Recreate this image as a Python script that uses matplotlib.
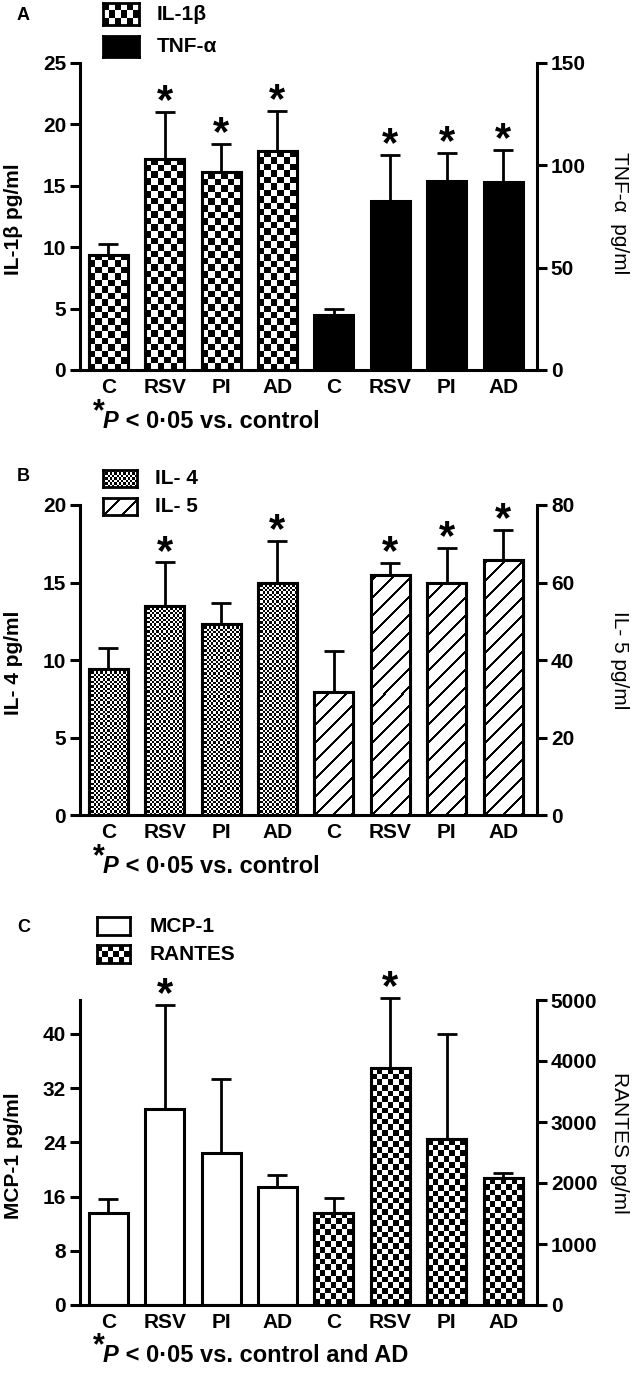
import matplotlib
matplotlib.use('Agg')
import matplotlib.pyplot as plt
import numpy as np

plt.rcParams['font.family'] = ['Liberation Sans', 'DejaVu Sans']
plt.rcParams['font.weight'] = 'bold'

categories = ['C', 'RSV', 'PI', 'AD']

# panel A
il1b_mean = [9.4, 17.2, 16.1, 17.8]
il1b_sem = [0.9, 3.8, 2.3, 3.3]
il1b_star = [False, True, True, True]
tnf_mean = [26.9, 82.6, 92.3, 91.8]
tnf_sem = [2.9, 22.4, 13.7, 15.7]
tnf_star = [False, True, True, True]

# panel B
il4_mean = [9.4, 13.5, 12.3, 15.0]
il4_sem = [1.4, 2.8, 1.4, 2.7]
il4_star = [False, True, False, True]
il5_mean = [31.7, 62.0, 60.0, 65.8]
il5_sem = [10.6, 3.0, 9.0, 7.7]
il5_star = [False, True, True, True]

# panel C
mcp_mean = [13.6, 28.9, 22.4, 17.4]
mcp_sem = [2.1, 15.4, 10.9, 1.8]
mcp_star = [False, True, False, False]
rantes_mean = [1511, 3883, 2717, 2078]
rantes_sem = [244, 1150, 1722, 83]
rantes_star = [False, True, False, False]

W, H = 639, 1375
fig = plt.figure(figsize=(W / 100, H / 100), dpi=100)

def fx(x):
    return x / W

def fy(y):
    return 1 - y / H

def px_rect(left, top, right, bottom):
    return [left / W, 1 - bottom / H, (right - left) / W, (bottom - top) / H]

BAR_W = 0.69
TICK_FS = 15
LW = 2.2
FILL_PX = {'checker': 6.5, 'checker_small': 5.7, 'fine': 2.3, 'hatch': 18}

def pattern(ax, x0, y0, w, h, style):
    # texture image (checkerboard or diagonal stripes) filling a box in data units
    p0 = ax.transData.transform((x0, y0))
    p1 = ax.transData.transform((x0 + w, y0 + h))
    wpx, hpx = abs(p1[0] - p0[0]), abs(p1[1] - p0[1])
    if style == 'hatch':
        nx, ny = max(1, int(round(wpx))), max(1, int(round(hpx)))
        i, j = np.indices((ny, nx))
        grid = np.where(((j - i) % FILL_PX['hatch']) < 2.6, 0, 1)
    else:
        c = FILL_PX[style]
        nx = max(1, int(round(wpx / c)))
        ny = max(1, int(round(hpx / c)))
        grid = np.add.outer(np.arange(ny), np.arange(nx)) % 2
    return ax.imshow(grid, cmap='gray', vmin=0, vmax=1, extent=(x0, x0 + w, y0, y0 + h),
                     aspect='auto', interpolation='nearest', origin='lower', zorder=2)

def draw_bars(ax, xs, mean, sem, star, style):
    face = 'black' if style == 'black' else 'white'
    bars = ax.bar(xs, mean, width=BAR_W, color=face, edgecolor='black',
                  linewidth=LW, zorder=2)
    ax.errorbar(xs, mean, yerr=[np.zeros(len(mean)), sem], fmt='none', ecolor='black',
                elinewidth=2, capsize=7, capthick=2, zorder=1, clip_on=False)
    if style in FILL_PX:
        for b in bars:
            im = pattern(ax, b.get_x(), 0, b.get_width(), b.get_height(), style)
            im.set_clip_path(b)
        ax.bar(xs, mean, width=BAR_W, fill=False, edgecolor='black', linewidth=LW, zorder=4)
    for x, m, s, st in zip(xs, mean, sem, star):
        if st:
            ax.annotate('*', (x, m + s), xytext=(0, -1), textcoords='offset points',
                        ha='center', va='baseline', fontsize=30, fontweight='bold',
                        zorder=5, annotation_clip=False)

def panel(rect, lmean, lsem, lstar, lstyle, rmean, rsem, rstar, rstyle,
          lmax, lticks, rmax, rticks, llabel, rlabel, rlabel_y):
    ax = fig.add_axes(px_rect(*rect))
    ax2 = ax.twinx()
    for a, top in ((ax, lmax), (ax2, rmax)):
        a.set_xlim(-0.5, 7.6)
        a.set_ylim(0, top)
    ax.set_yticks(lticks)
    ax2.set_yticks(rticks)
    draw_bars(ax, np.arange(4), lmean, lsem, lstar, lstyle)
    draw_bars(ax2, np.arange(4, 8), rmean, rsem, rstar, rstyle)
    for a, top in ((ax, lmax), (ax2, rmax)):
        a.set_xlim(-0.5, 7.6)
        a.set_ylim(0, top)
        for s in a.spines.values():
            s.set_linewidth(LW)
    ax.spines['top'].set_visible(False)
    ax.spines['right'].set_visible(False)
    for k in ('top', 'left', 'bottom'):
        ax2.spines[k].set_visible(False)
    ax.set_xticks(np.arange(8))
    ax.set_xticklabels(categories * 2)
    ax.tick_params(axis='x', length=0, labelsize=TICK_FS, pad=6)
    ax.tick_params(axis='y', direction='out', length=7, width=LW, labelsize=TICK_FS, pad=3)
    ax2.tick_params(axis='y', direction='out', length=7, width=LW, labelsize=TICK_FS, pad=3)
    mid = (rect[1] + rect[3]) / 2
    fig.text(fx(14), fy(mid + 3), llabel, rotation=90, ha='center', va='center', fontsize=15)
    fig.text(fx(619), fy(rlabel_y), rlabel, rotation=270, ha='center', va='center',
             fontsize=15, fontweight='normal')
    return ax

def swatch(left, top, right, bottom, style):
    sax = fig.add_axes(px_rect(left, top, right, bottom))
    sax.set_xlim(0, 1)
    sax.set_ylim(0, 1)
    sax.set_xticks([])
    sax.set_yticks([])
    for s in sax.spines.values():
        s.set_linewidth(2)
    if style == 'black':
        sax.set_facecolor('black')
    elif style in FILL_PX:
        pattern(sax, 0, 0, 1, 1, style)
        sax.set_xlim(0, 1)
        sax.set_ylim(0, 1)

def footnote(ax, x, y, text):
    tp = fig.text(fx(x), fy(y), 'P', fontsize=17, style='italic', va='baseline')
    ax.annotate('*', xy=(0, 0), xycoords=tp, xytext=(1, 4), textcoords='offset points',
                ha='right', va='bottom', fontsize=22, annotation_clip=False)
    ax.annotate(text, xy=(1, 0), xycoords=tp, va='bottom', fontsize=17, annotation_clip=False)

# panel A
axA = panel((80, 63, 537, 370), il1b_mean, il1b_sem, il1b_star, 'checker',
            tnf_mean, tnf_sem, tnf_star, 'black', 25, [0, 5, 10, 15, 20, 25],
            150, [0, 50, 100, 150], 'IL-1\u03b2 pg/ml', 'TNF-\u03b1  pg/ml', 213)
fig.text(fx(17), fy(15), 'A', fontsize=13, va='center')
swatch(103, 3, 139, 25, 'checker')
swatch(103, 36, 139, 57, 'black')
fig.text(fx(157), fy(15), 'IL-1\u03b2', fontsize=15, va='center')
fig.text(fx(157), fy(47), 'TNF-\u03b1', fontsize=15, va='center')
footnote(axA, 103, 428, ' < 0\u00b705 vs. control')

# panel B
axB = panel((80, 505, 537, 815), il4_mean, il4_sem, il4_star, 'fine',
            il5_mean, il5_sem, il5_star, 'hatch', 20, [0, 5, 10, 15, 20],
            80, [0, 20, 40, 60, 80], 'IL- 4 pg/ml', 'IL- 5 pg/ml', 660)
fig.text(fx(17), fy(477), 'B', fontsize=13, va='center')
swatch(103, 470, 137, 487, 'fine')
swatch(103, 498, 137, 515, 'hatch')
fig.text(fx(155), fy(478), 'IL- 4', fontsize=15, va='center')
fig.text(fx(155), fy(506), 'IL- 5', fontsize=15, va='center')
footnote(axB, 103, 873, ' < 0\u00b705 vs. control')

# panel C
axC = panel((80, 1000, 537, 1305), mcp_mean, mcp_sem, mcp_star, 'white',
            rantes_mean, rantes_sem, rantes_star, 'checker_small', 45, [0, 8, 16, 24, 32, 40],
            5000, [0, 1000, 2000, 3000, 4000, 5000], 'MCP-1 pg/ml', 'RANTES pg/ml', 1143)
fig.text(fx(17), fy(927), 'C', fontsize=13, va='center')
swatch(97, 917, 130, 935, 'white')
swatch(97, 945, 130, 963, 'checker_small')
fig.text(fx(150), fy(926), 'MCP-1', fontsize=15, va='center')
fig.text(fx(150), fy(954), 'RANTES', fontsize=15, va='center')
footnote(axC, 103, 1362, ' < 0\u00b705 vs. control and AD')

fig.savefig('out.png', dpi=100)
